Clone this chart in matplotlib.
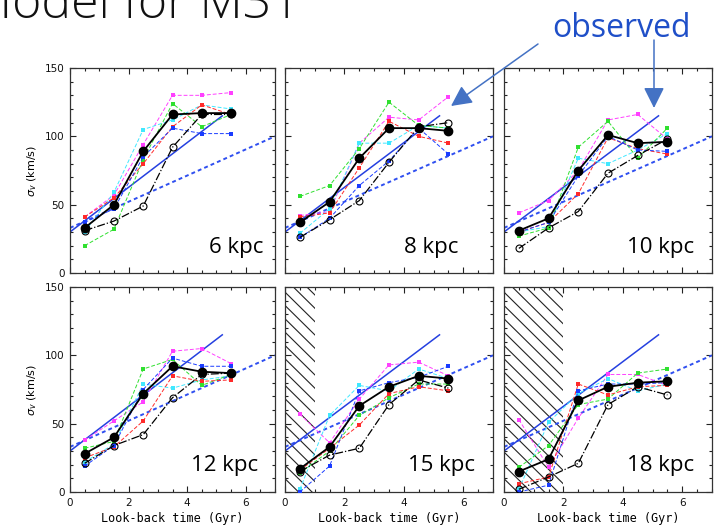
import matplotlib
matplotlib.use("Agg")
import matplotlib.pyplot as plt
from matplotlib.patches import FancyArrowPatch, Rectangle
import numpy as np

# Look-back time bins (Gyr)
lookback = [0.5, 1.5, 2.5, 3.5, 4.5, 5.5]
panel_labels = ["6 kpc", "8 kpc", "10 kpc", "12 kpc", "15 kpc", "18 kpc"]

# Velocity dispersion (km/s) per radius: model realisations
sigma_magenta = [
    [41, 57, 94, 130, 130, 132],
    [42, 45, 95, 114, 112, 129],
    [44, 53, 75, 112, 116, 98],
    [38, 52, 66, 103, 105, 94],
    [57, 36, 68, 93, 95, 85],
    [53, 18, 54, 86, 86, 78],
]
sigma_cyan = [
    [30, 59, 105, 112, 123, 120],
    [29, 47, 95, 95, 108, 106],
    [30, 34, 84, 80, 90, 102],
    [22, 35, 79, 76, 82, 85],
    [2, 56, 78, 74, 90, 83],
    [2, 51, 72, 83, 74, 79],
]
sigma_green = [
    [20, 32, 83, 124, 107, 116],
    [56, 64, 91, 125, 108, 106],
    [27, 33, 92, 111, 84, 106],
    [32, 37, 90, 97, 78, 86],
    [14, 30, 56, 69, 79, 79],
    [18, 34, 64, 68, 87, 90],
]
sigma_red = [
    [41, 55, 80, 107, 123, 116],
    [41, 44, 77, 111, 100, 95],
    [30, 37, 58, 99, 91, 87],
    [25, 33, 52, 85, 81, 82],
    [16, 32, 49, 72, 77, 74],
    [6, 11, 79, 71, 77, 78],
]
sigma_blue = [
    [37, 47, 85, 106, 102, 102],
    [26, 40, 64, 82, 106, 87],
    [30, 37, 71, 100, 90, 89],
    [19, 34, 75, 98, 92, 92],
    [0, 19, 74, 80, 84, 92],
    [0, 5, 74, 79, 79, 80],
]
# Mean of the realisations
sigma_mean = [
    [33, 50, 89, 116, 117, 117],
    [37, 52, 84, 106, 106, 104],
    [31, 40, 75, 101, 95, 96],
    [28, 40, 72, 92, 88, 87],
    [17, 33, 63, 77, 85, 83],
    [15, 24, 67, 77, 80, 81],
]
# Open-circle series
sigma_open = [
    [31, 38, 49, 92, 116, 116],
    [26, 39, 53, 81, 107, 110],
    [18, 33, 45, 73, 86, 98],
    [21, 34, 42, 69, 86, 87],
    [15, 27, 32, 64, 82, 76],
    [2, 11, 21, 64, 77, 71],
]

# Reference relations drawn in every panel
fit_solid_t = [0.0, 5.2]
fit_solid_sigma = [30, 115]
fit_dotted_t = [0.0, 7.0]
fit_dotted_sigma = [33, 100]

# Hatched (excluded) look-back range per panel
hatch_tmax = [None, None, None, None, 1.0, 2.0]

W, H = 723, 532
fig = plt.figure(figsize=(W / 100, H / 100), dpi=100)

col_x = [(70, 205), (285, 208), (504, 208)]
row_y = [(68, 205), (287, 205)]
label_x = [0.68, 0.57, 0.59, 0.59, 0.59, 0.59]

series = [
    (sigma_magenta, "#ff40ff"),
    (sigma_cyan, "#40e8ff"),
    (sigma_green, "#30e030"),
    (sigma_red, "#ff2a2a"),
    (sigma_blue, "#1a3cff"),
]

tick_font = dict(family="DejaVu Sans", size=7.5)

for i in range(6):
    r, c = divmod(i, 3)
    x0, w = col_x[c]
    y0, h = row_y[r]
    ax = fig.add_axes([x0 / W, 1 - (y0 + h) / H, w / W, h / H])
    ax.set_xlim(0, 7)
    ax.set_ylim(0, 150)

    # hatched region
    if hatch_tmax[i] is not None:
        clip = Rectangle((0, 0), hatch_tmax[i], 150, transform=ax.transData,
                         fill=False, visible=False)
        ax.add_patch(clip)
        for cval in np.arange(0.0, 2.2, 0.065):
            ln, = ax.plot([0, cval], [cval, 0], transform=ax.transAxes,
                          color="#222222", lw=0.8, zorder=1)
            ln.set_clip_path(clip)

    ax.plot(fit_dotted_t, fit_dotted_sigma, color="#2f4ff0", lw=1.4,
            linestyle=(0, (2.0, 1.6)), zorder=2)
    ax.plot(fit_solid_t, fit_solid_sigma, color="#2540e0", lw=1.1, zorder=2)

    for vals, col in series:
        ax.plot(lookback, vals[i], color=col, lw=0.7, linestyle=(0, (4, 2)),
                marker="s", markersize=3.0, markeredgewidth=0, zorder=3)

    ax.plot(lookback, sigma_open[i], color="black", lw=0.9, linestyle="-.",
            marker="o", markersize=5, markerfacecolor="none",
            markeredgewidth=0.8, zorder=4)
    ax.plot(lookback, sigma_mean[i], color="black", lw=1.3,
            marker="o", markersize=6, zorder=5)

    ax.text(label_x[i], 0.1, panel_labels[i], transform=ax.transAxes,
            family="Open Sans", fontsize=16, ha="left", va="baseline", zorder=6)

    ax.set_xticks([0, 2, 4, 6])
    ax.set_xticks(np.arange(0, 7.01, 0.5), minor=True)
    ax.set_yticks([0, 50, 100, 150])
    ax.set_yticks(np.arange(0, 151, 10), minor=True)
    ax.tick_params(which="both", direction="in", top=True, right=True,
                   width=0.8, colors="#222222")
    ax.tick_params(which="major", length=4.5)
    ax.tick_params(which="minor", length=2.4)
    for sp in ax.spines.values():
        sp.set_linewidth(0.9)
        sp.set_color("#333333")

    if c == 0:
        ax.set_yticklabels(["0", "50", "100", "150"], **tick_font)
        ax.set_ylabel(r"$\sigma_v$ (km/s)", family="DejaVu Sans", fontsize=8,
                      labelpad=4)
    else:
        ax.set_yticklabels([])
    if r == 1:
        ax.set_xticklabels(["0", "2", "4", "6"], **tick_font)
        ax.set_xlabel("Look-back time (Gyr)", family="DejaVu Sans Mono",
                      fontsize=8.5, labelpad=3)
    else:
        ax.set_xticklabels([])
    ax.tick_params(axis="both", pad=4, labelcolor="#111111")

# slide title and annotation
fig.text(300 / W, 1 - 18 / H, "Model for M31", family="Open Sans",
         fontsize=36, fontweight="light", ha="right", va="baseline",
         color="#111111")
fig.text(622 / W, 1 - 37 / H, "observed", family="Open Sans", fontsize=23,
         ha="center", va="baseline", color="#1f4fc8")

arrow_color = "#4472c4"
for tail, head in [((538, 44), (451, 106)), ((654, 40), (654, 108))]:
    fig.add_artist(FancyArrowPatch(
        (tail[0] / W, 1 - tail[1] / H), (head[0] / W, 1 - head[1] / H),
        transform=fig.transFigure, arrowstyle="-|>,head_length=0.9,head_width=0.45",
        mutation_scale=14, color=arrow_color, lw=1.1, shrinkA=0, shrinkB=0))

fig.savefig("out.png", dpi=100)
